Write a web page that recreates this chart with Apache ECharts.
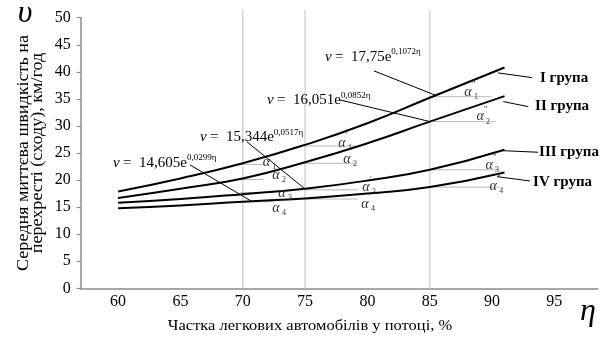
<!DOCTYPE html>
<html><head><meta charset="utf-8">
<script src="https://cdn.jsdelivr.net/npm/echarts@6/dist/echarts.min.js"></script>
<style>html,body{margin:0;padding:0;background:#fff}#c{width:601px;height:338px}</style>
</head><body><div id="c"></div>
<script>
// ---- data ----
const eta = [60, 65, 70, 75, 80, 85, 91];
const groupI   = [17.9, 20.3, 23.1, 26.5, 30.5, 35.2, 40.8];
const groupII  = [16.7, 18.4, 20.3, 23.3, 26.8, 30.8, 35.5];
const groupIII = [15.8, 16.5, 17.4, 18.4, 19.9, 21.9, 25.6];
const groupIV  = [14.8, 15.3, 16.0, 16.6, 17.5, 18.7, 21.4];
const seriesNames = ['I група', 'II група', 'III група', 'IV група'];
const xTickLabels = [60, 65, 70, 75, 80, 85, 90, 95];
const yTicks = [0, 5, 10, 15, 20, 25, 30, 35, 40, 45, 50];
const refLinesX = [70, 75, 85];
const equations = [
  {k: '17,75', e: '0,1072'},
  {k: '16,051', e: '0,0852'},
  {k: '15,344', e: '0,0517'},
  {k: '14,605', e: '0,0299'}
];
// annotation anchors in data coordinates
const eqPos = [[76.6, 42.8], [71.95, 34.7], [66.57, 27.9], [59.6, 23.2]];
const eqLeaders = [
  [[80.53, 40.17], [85.42, 35.71]],
  [[77.8, 34.8], [85.03, 30.8]],
  [[70.32, 27.1], [75.0, 18.35]],
  [[65.77, 22.8], [70.66, 16.14]]
];
const grpLabelPos = [[93.85, 38.9], [93.45, 33.6], [93.77, 25.1], [93.29, 19.7]];
const grpLeaders = [
  [[90.48, 39.8], [93.2, 38.93]],
  [[90.9, 34.5], [92.9, 33.57]],
  [[90.88, 25.43], [93.69, 25.14]],
  [[90.4, 20.63], [93.05, 19.83]]
];
// angle reference lines: [etaStart, etaEnd, v]
const angleLines = [
  [70, 71.7, 22.9], [70, 71.7, 20.1], [69.8, 72.5, 17.7], [69.8, 72.5, 16.0],
  [75, 79, 26.3], [75, 79, 23.1], [75, 79.2, 18.2], [75, 79.2, 16.5],
  [85, 90, 35.4], [85, 90.3, 30.8], [85, 90.6, 21.9], [85, 90.6, 18.7]
];
// alpha labels: [eta, v, index, primes]
const alphaLabels = [
  [71.89, 23.36, '1', ''], [72.67, 20.94, '2', ''], [73.15, 17.6, '3', ''], [72.67, 14.8, '4', ''],
  [77.96, 26.86, '1', '′'], [78.36, 23.9, '2', '′'], [79.88, 18.7, '3', '′'], [79.8, 15.6, '4', '′'],
  [88.07, 36.3, '1', '″'], [89.04, 31.7, '2', '″'], [89.76, 22.8, '3', '″'], [90.1, 18.9, '4', '″']
];

const SERIF = "'Liberation Serif','Times New Roman',serif";
const all = [groupI, groupII, groupIII, groupIV];
const chart = echarts.init(document.getElementById('c'), null, {renderer: 'canvas'});

chart.setOption({
  animation: false,
  backgroundColor: '#fff',
  grid: {left: 80.7, right: 3, top: 17.7, bottom: 49.7},
  xAxis: {
    type: 'value', min: 57, max: 98.5,
    axisLine: {show: true, lineStyle: {color: '#8c8c8c', width: 1.5}},
    axisTick: {show: false},
    splitLine: {show: false},
    axisLabel: {customValues: xTickLabels, fontFamily: SERIF, fontSize: 16, color: '#000', margin: 5}
  },
  yAxis: {
    type: 'value', min: 0, max: 50, interval: 5,
    axisLine: {show: true, lineStyle: {color: '#8c8c8c', width: 1.5}},
    axisTick: {show: true, length: 4, lineStyle: {color: '#8c8c8c', width: 1.2}},
    splitLine: {show: false},
    axisLabel: {fontFamily: SERIF, fontSize: 16, color: '#000', margin: 10}
  },
  series: all.map((d, i) => ({
    name: seriesNames[i], type: 'line', smooth: true, showSymbol: false, symbol: 'none',
    lineStyle: {color: '#000', width: 2},
    data: eta.map((x, j) => [x, d[j]]), z: 5
  }))
});

function px(p) { return chart.convertToPixel({gridIndex: 0}, p); }
const g = [];
// vertical reference lines
refLinesX.forEach(x => {
  const a = px([x, 0]), b = px([x, 51.4]);
  g.push({type: 'line', z: 1, shape: {x1: a[0], y1: a[1], x2: b[0], y2: b[1]}, style: {stroke: '#d4d4d4', lineWidth: 1.5}});
});
// angle lines
angleLines.forEach(l => {
  const a = px([l[0], l[2]]), b = px([l[1], l[2]]);
  g.push({type: 'line', z: 2, shape: {x1: a[0], y1: a[1], x2: b[0], y2: b[1]}, style: {stroke: '#b8b8b8', lineWidth: 1}});
});
// leader lines
eqLeaders.concat(grpLeaders).forEach(l => {
  const a = px(l[0]), b = px(l[1]);
  g.push({type: 'line', z: 6, shape: {x1: a[0], y1: a[1], x2: b[0], y2: b[1]}, style: {stroke: '#000', lineWidth: 1}});
});
// equations
equations.forEach((e, i) => {
  const p = px(eqPos[i]);
  g.push({type: 'text', z: 7, x: p[0], y: p[1], style: {
    text: '{v|v} {t|=  ' + e.k + 'e}{s|' + e.e + 'η}',
    verticalAlign: 'middle', align: 'left',
    rich: {
      v: {fontFamily: SERIF, fontStyle: 'italic', fontSize: 15, fill: '#000'},
      t: {fontFamily: SERIF, fontSize: 15, fill: '#000'},
      s: {fontFamily: SERIF, fontSize: 9, fill: '#000', padding: [0, 0, 10, 0]}
    }
  }});
});
// group labels
seriesNames.forEach((n, i) => {
  const p = px(grpLabelPos[i]);
  g.push({type: 'text', z: 7, x: p[0], y: p[1], style: {
    text: n, fontFamily: SERIF, fontWeight: 'bold', fontSize: 15, fill: '#000', verticalAlign: 'middle', align: 'left'
  }});
});
// alpha labels
alphaLabels.forEach(a => {
  const p = px([a[0], a[1]]);
  g.push({type: 'text', z: 7, x: p[0], y: p[1], style: {
    text: 'α', fontFamily: SERIF, fontStyle: 'italic', fontSize: 14, fill: '#333', align: 'center', verticalAlign: 'middle'
  }});
  g.push({type: 'text', z: 7, x: p[0] + 6, y: p[1] + 5, style: {
    text: a[2], fontFamily: SERIF, fontSize: 8, fill: '#333', align: 'left', verticalAlign: 'middle'
  }});
  if (a[3]) g.push({type: 'text', z: 7, x: p[0] + 4, y: p[1] - 7, style: {
    text: a[3], fontFamily: SERIF, fontSize: 8, fill: '#333', align: 'left', verticalAlign: 'middle'
  }});
});
// axis titles and symbols
g.push({type: 'text', x: 31, y: 153, rotation: Math.PI / 2, scaleX: 1.13, style: {
  text: 'Середня миттєва швидкість на\nперехресті (сходу), км/год',
  fontFamily: SERIF, fontSize: 16, fill: '#000', align: 'center', verticalAlign: 'middle', lineHeight: 14
}});
g.push({type: 'text', x: 310, y: 326, scaleX: 1.1, style: {
  text: 'Частка легкових автомобілів у потоці, %', fontFamily: SERIF, fontSize: 15, fill: '#000', align: 'center', verticalAlign: 'middle'
}});
g.push({type: 'text', x: 25, y: 14, style: {
  text: 'υ', fontFamily: SERIF, fontStyle: 'italic', fontSize: 32, fill: '#000', align: 'center', verticalAlign: 'middle'
}});
g.push({type: 'text', x: 588, y: 312, style: {
  text: 'η', fontFamily: SERIF, fontStyle: 'italic', fontSize: 32, fill: '#000', align: 'center', verticalAlign: 'middle'
}});
chart.setOption({graphic: g});
</script></body></html>
